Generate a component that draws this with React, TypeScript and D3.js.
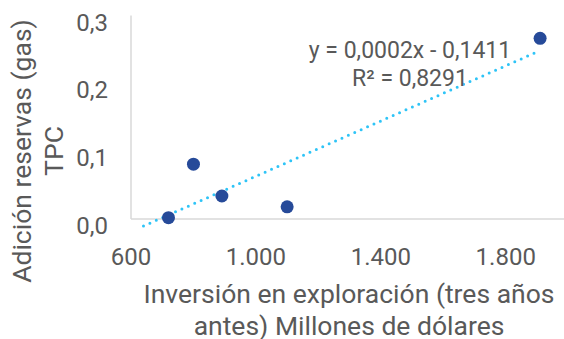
import React from "react";
import * as d3 from "d3";

const xValues = [720, 800, 891, 1100, 1910];
const yValues = [0.002, 0.081, 0.034, 0.018, 0.267];
const xTicks = [600, 1000, 1400, 1800];
const yTicks = [0, 0.1, 0.2, 0.3];
const trendStartX = 640;
const equationLines = ["y = 0,0002x - 0,1411", "R² = 0,8291"];
const yTitleLines = ["Adición reservas (gas)", "TPC"];
const xTitleLines = ["Inversión en exploración (tres años", "antes) Millones de dólares"];

const W = 564;
const H = 339;

export default function App() {
  const x = d3.scaleLinear().domain([600, 2000]).range([131, 131 + 1400 * 0.3123]);
  const y = d3.scaleLinear().domain([0, 0.3]).range([219, 16]);

  const n = xValues.length;
  const mx = d3.mean(xValues)!;
  const my = d3.mean(yValues)!;
  let sxy = 0, sxx = 0;
  for (let i = 0; i < n; i++) {
    sxy += (xValues[i] - mx) * (yValues[i] - my);
    sxx += (xValues[i] - mx) ** 2;
  }
  const slope = sxy / sxx;
  const intercept = my - slope * mx;
  const xMax = d3.max(xValues)!;
  const trend = d3.line<number>().x((d) => x(d)).y((d) => y(slope * d + intercept));

  const fmtX = (v: number) => d3.format(",")(v).replace(/,/g, ".");
  const fmtY = (v: number) => v.toFixed(1).replace(".", ",");
  const font = "Roboto, sans-serif";
  const grey = "#595959";

  return (
    <svg width={W} height={H} style={{ position: "absolute", left: 0, top: 0 }} fontFamily={font}>
      <rect width={W} height={H} fill="#fff" />
      <line x1={x(600)} x2={W} y1={y(0)} y2={y(0)} stroke="#d9d9d9" strokeWidth={1.5} />
      <line x1={x(600)} x2={x(600)} y1={y(0)} y2={15.5} stroke="#d9d9d9" strokeWidth={1.5} />
      {yTicks.map((t) => (
        <text key={t} x={108} y={y(t) + 14.5} textAnchor="end" fontSize={24} fill={grey}>
          {fmtY(t)}
        </text>
      ))}
      {xTicks.map((t) => (
        <text key={t} x={x(t)} y={265} textAnchor="middle" fontSize={24} fill={grey}>
          {fmtX(t)}
        </text>
      ))}
      <path
        d={trend([trendStartX, xMax]) || ""}
        fill="none"
        stroke="#2ec4f7"
        strokeWidth={3}
        strokeLinecap="round"
        strokeDasharray="0 7"
      />
      {xValues.map((xv, i) => (
        <circle key={i} cx={x(xv)} cy={y(yValues[i])} r={6.5} fill="#264a99" />
      ))}
      {equationLines.map((l, i) => (
        <text key={i} x={410} y={58 + i * 27.7} textAnchor="middle" fontSize={23} fill={grey}>
          {l}
        </text>
      ))}
      <g transform={`translate(0,151) rotate(-90)`}>
        {yTitleLines.map((l, i) => (
          <text key={i} x={0} y={31 + i * 32} textAnchor="middle" fontSize={26.5} fill={grey}>
            {l}
          </text>
        ))}
      </g>
      {xTitleLines.map((l, i) => (
        <text key={i} x={349} y={303 + i * 31.5} textAnchor="middle" fontSize={26.5} fill={grey}>
          {l}
        </text>
      ))}
    </svg>
  );
}
